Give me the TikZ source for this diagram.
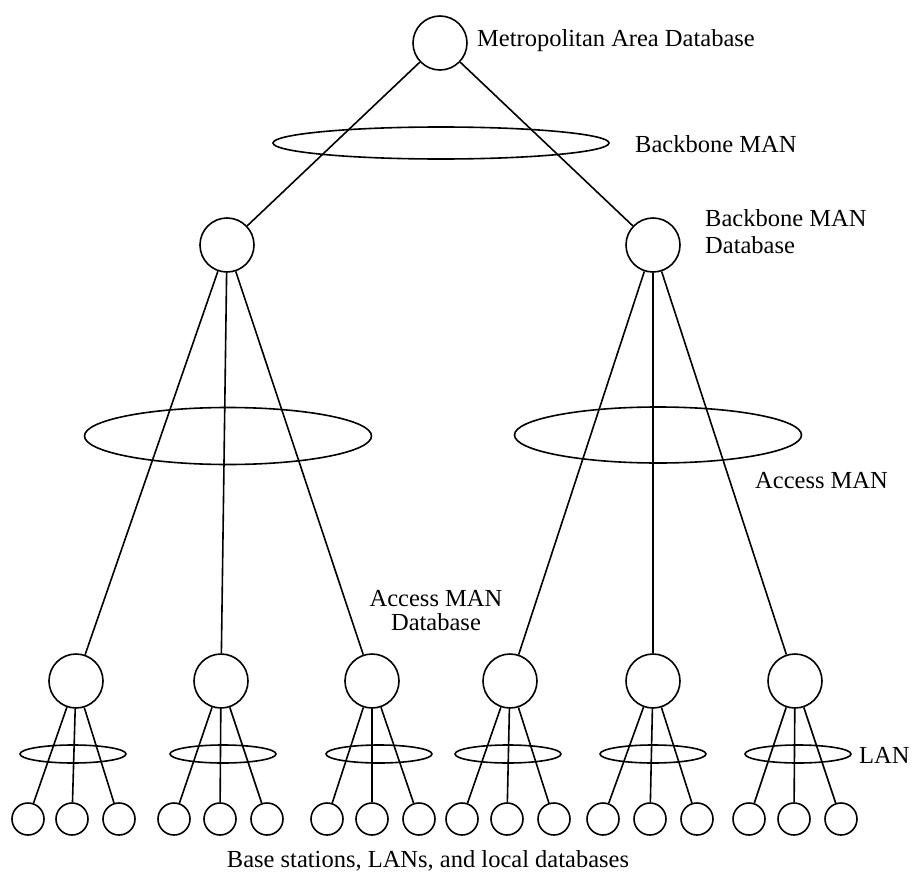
\documentclass[tikz,border=0pt]{standalone}
\usepackage{fontspec}
\setmainfont{Liberation Serif}
\usetikzlibrary{shapes.geometric}
\tikzset{
  dbnode/.style={circle, draw, line width=1.6pt, minimum size=54pt, inner sep=0pt},
  leafnode/.style={circle, draw, line width=1.6pt, minimum size=32pt, inner sep=0pt},
  netring/.style={ellipse, draw, line width=1.6pt, inner sep=0pt},
  link/.style={line width=1.6pt},
  lbl/.style={inner sep=0pt, font=\fontsize{24.5}{27}\selectfont}
}
\begin{document}
\begin{tikzpicture}[x=1pt,y=-1pt]
\useasboundingbox (0,0) rectangle (914,878);
% top
\node[dbnode] (top) at (440,43) {};
\node[netring, minimum width=336pt, minimum height=32pt] (bb) at (441,143) {};
% level 2
\node[dbnode] (L) at (227,245) {};
\node[dbnode] (R) at (653,245) {};
\node[netring, minimum width=287pt, minimum height=57pt] (accL) at (228,436) {};
\node[netring, minimum width=287pt, minimum height=56pt] (accR) at (658,435) {};
% level 3
\foreach \n/\x/\e in {a/76/73, b/221/223, c/372/379, d/510/508, e/653/653, f/795/798}{
  \node[dbnode] (\n) at (\x,681) {};
  \node[netring, minimum width=106pt, minimum height=18pt] (lan\n) at (\e,754) {};
}
% leaves
\foreach \n/\xa/\xb/\xc in {a/28/72/119, b/174/220/267, c/327/372/419, d/462/507/554, e/603/650/697, f/749/794/841}{
  \node[leafnode] (\n1) at (\xa,819) {};
  \node[leafnode] (\n2) at (\xb,819) {};
  \node[leafnode] (\n3) at (\xc,819) {};
  \draw[link] (\n) -- (\n1);
  \draw[link] (\n) -- (\n2);
  \draw[link] (\n) -- (\n3);
}
% connectors
\draw[link] (top) -- (L);
\draw[link] (top) -- (R);
\draw[link] (L) -- (a);
\draw[link] (L) -- (b);
\draw[link] (L) -- (c);
\draw[link] (R) -- (d);
\draw[link] (R) -- (e);
\draw[link] (R) -- (f);
% labels
\node[lbl, anchor=base west] (t1) at (477,46) {Metropolitan Area Database};
\node[lbl, anchor=base west] (t2) at (635,152) {Backbone MAN};
\node[lbl, anchor=base west, align=left] (t3) at (705,253) {Backbone MAN\\Database};
\node[lbl, anchor=base west] (t4) at (755,488) {Access MAN};
\node[lbl, anchor=base, align=center, font=\fontsize{24.5}{23.5}\selectfont] (t5) at (436,630) {Access MAN\\Database};
\node[lbl, anchor=base west] (t6) at (859,763) {LAN};
\node[lbl, anchor=base] (t7) at (428,867) {Base stations, LANs, and local databases};
\end{tikzpicture}
\end{document}
